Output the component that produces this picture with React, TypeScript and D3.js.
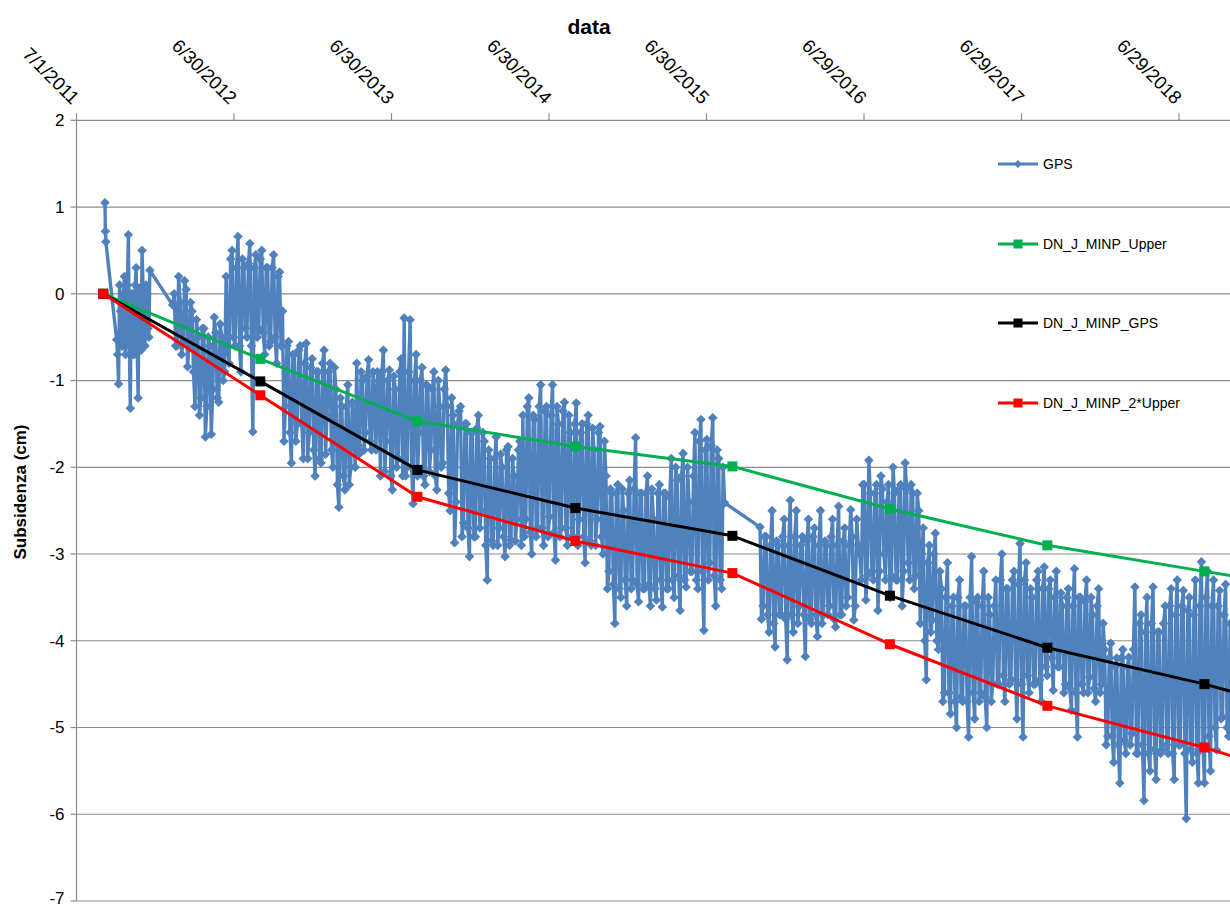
import React from "react";
import * as d3 from "d3";

// ---------------- data ----------------
const xTickDates = [
  "2011-07-01", "2012-06-30", "2013-06-30", "2014-06-30",
  "2015-06-30", "2016-06-29", "2017-06-29", "2018-06-29",
];
const xAxisEndDate = "2019-06-28";
const yTickValues = [2, 1, 0, -1, -2, -3, -4, -5, -6, -7];

const modelDates = [
  "2011-09-01", "2012-08-30", "2013-08-29", "2014-08-30", "2015-08-29",
  "2016-08-28", "2017-08-28", "2018-08-27", "2019-08-28",
];
const upperValues = [0, -0.75, -1.47, -1.76, -1.99, -2.48, -2.9, -3.2, -3.49];
const minpGpsValues = [0, -1.01, -2.03, -2.47, -2.79, -3.48, -4.08, -4.5, -5.0];
const twiceUpperValues = [0, -1.17, -2.34, -2.85, -3.22, -4.04, -4.75, -5.23, -5.8];

// "outer" values trace the spikes, "inner" values (half a step later) the solid band.
const gpsRunA = ["2011-09-05", "2011-09-07"];
const gpsValuesA = [1.05, 0.72, 0.6];

const gpsRunB = ["2011-10-02", "2011-12-18"];
const gpsValuesB = [
  -0.53, -1.04, -0.2, -0.6, 0.2, -0.5, 0.68, -1.32, 0.0, -0.7, 0.3, -1.2, -0.3,
  0.5, -0.6, 0.1, -0.4, 0.27,
];
const gpsInnerB = [
  -0.7, 0.1, -0.6, 0.0, -0.7, 0.1, -0.6, 0.0, -0.7, 0.1, -0.6, 0.05, -0.65,
  0.1, -0.6, 0.0, -0.5,
];

const gpsRunC = ["2012-02-09", "2015-08-11"];
const gpsValuesC = [
  -0.13, -0.6, 0.2, -0.7, 0.15, -0.84, -0.1,
  -0.9, -0.3, -1.4, -0.4, -1.65, -0.5, -1.62, -0.27, -1.2, -0.35, -1.0,
  0.2, -0.8, 0.5, -0.6, 0.66, -0.9, 0.3, -0.5, 0.58, -1.59, 0.45, -0.4, 0.5, -0.7, 0.3, -0.55, 0.45, -0.8, 0.25,
  -0.2, -1.3, -0.55, -1.95, -0.7, -1.5, -0.6,
  -1.9, -0.57, -1.6, -0.75, -2.1, -0.9, -1.95, -0.65, -1.4, -0.8, -2.0,
  -1.1, -2.46, -1.3, -2.26, -1.05, -2.0, -1.5,
  -0.8, -1.84, -1.0, -1.6, -0.76, -1.8, -1.2, -0.9,
  -2.1, -0.65, -1.7, -0.88, -2.26, -1.1, -1.9, -0.75,
  -0.28, -2.0, -0.3, -2.42, -0.7,
  -1.6, -0.85, -2.2, -1.07, -1.8, -0.9, -2.26, -1.3, -1.95,
  -0.88, -2.3, -1.2, -2.87, -1.5,
  -1.3, -2.64, -1.5, -3.03, -1.6, -2.8, -1.4, -2.5,
  -1.7, -3.3, -1.9, -2.9, -1.65, -2.7, -2.0, -3.03, -1.76, -2.84, -2.1, -2.6, -1.7,
  -1.4, -2.6, -1.2, -3.0, -1.45, -2.7, -1.05, -2.9, -1.3, -2.57, -1.05, -3.07, -1.5, -2.7, -1.25, -2.9, -1.6,
  -2.8, -1.26, -2.6, -1.5, -3.1, -1.4, -2.9, -1.8, -2.6, -1.53, -3.0,
  -2.1, -3.2, -2.3, -3.8, -2.2, -3.5, -2.5, -3.6, -2.15, -3.3, -1.66, -3.55, -2.3, -3.4, -2.1, -3.6, -2.6, -3.53, -2.2,
  -3.61, -2.3, -3.4,
  -1.9, -3.5, -2.15, -3.65, -1.84, -3.38, -2.4, -3.2,
  -1.6, -3.4, -1.45, -3.88, -1.68, -3.1, -1.43, -3.6, -1.9, -3.4, -2.41,
];
const gpsInnerC = [
  0.0, -0.6, -0.1, -0.55, 0.05, -0.6, -0.2,
  -1.3, -0.5, -1.2, -0.4, -1.3, -0.6, -1.1, -0.45, -1.25, -0.5, -0.9,
  -0.6, 0.4, -0.5, 0.3, -0.6, 0.4, -0.4, 0.35, -0.6, 0.3, -0.5, 0.4, -0.45, 0.3, -0.6, 0.3, -0.5, 0.2, -0.6,
  -1.7, -0.6, -1.6, -0.7, -1.7, -0.65, -1.5,
  -0.8, -1.9, -0.85, -1.8, -0.9, -1.9, -0.8, -1.85, -0.9, -1.8, -0.85,
  -2.2, -1.2, -2.1, -1.3, -2.2, -1.25, -2.0,
  -1.75, -0.9, -1.8, -0.95, -1.7, -0.9, -1.8, -1.0,
  -0.9, -2.05, -1.0, -2.1, -0.95, -2.0, -0.9, -2.1,
  -2.1, -0.9, -2.0, -1.0, -2.1,
  -1.0, -2.1, -1.05, -2.05, -1.1, -2.1, -1.0, -2.0, -1.1,
  -1.3, -2.5, -1.4, -2.4, -1.35,
  -2.8, -1.5, -2.7, -1.6, -2.8, -1.55, -2.7, -1.6,
  -2.9, -1.8, -2.85, -1.9, -2.9, -1.85, -2.8, -1.8, -2.9, -1.9, -2.85, -1.8, -2.9,
  -2.8, -1.3, -2.75, -1.4, -2.8, -1.3, -2.7, -1.35, -2.8, -1.4, -2.75, -1.3, -2.8, -1.35, -2.7, -1.4, -2.8,
  -1.5, -2.9, -1.6, -2.8, -1.5, -2.85, -1.55, -2.9, -1.6, -2.8, -1.7,
  -3.4, -2.25, -3.35, -2.3, -3.4, -2.25, -3.3, -2.3, -3.4, -2.25, -3.35, -2.3, -3.4, -2.3, -3.35, -2.25, -3.4, -2.3, -3.3,
  -2.3, -3.4, -2.35,
  -3.3, -2.0, -3.25, -2.1, -3.3, -2.0, -3.2, -2.1,
  -3.3, -1.7, -3.2, -1.8, -3.3, -1.75, -3.25, -1.8, -3.3, -2.0,
];

const gpsRunD = ["2015-11-01", "2018-10-29"];
const gpsValuesD = [
  -2.69, -3.6, -2.8, -3.9, -2.5, -4.07, -2.9, -3.7, -2.6, -4.22, -2.38, -3.9, -2.5, -3.6, -2.8,
  -4.18, -2.6, -3.8, -2.7, -3.95, -2.5, -3.7, -2.9, -3.6, -2.6, -3.84, -2.45, -3.7, -2.7, -3.5,
  -2.49, -3.76, -2.6,
  -3.0, -2.2, -3.53, -1.92, -3.2, -2.3, -3.65, -2.1, -3.0, -2.4, -3.5, -2.0, -3.3, -2.25, -3.6, -1.95, -3.1, -2.2, -3.4, -2.3,
  -3.8, -2.7, -4.45, -2.9, -3.76, -2.76, -4.1,
  -3.4, -4.6, -3.1, -4.84, -3.5, -5.0, -3.3, -4.7, -3.6, -5.11, -3.03, -4.9, -3.5, -4.6, -3.2, -5.0, -3.7, -4.5,
  -3.3, -4.5, -3.0, -4.7, -3.4, -4.45, -3.2, -4.9, -2.88, -5.11, -3.1, -4.6, -3.5, -4.5, -3.2, -4.7,
  -3.15, -4.4, -3.3, -4.57, -3.2, -4.3,
  -3.6, -4.5, -3.4, -4.8, -3.17, -5.11, -3.5, -4.6, -3.3, -4.42, -3.7, -4.7, -3.4, -4.5,
  -4.1, -5.1, -4.03, -5.4, -4.2, -5.64, -4.1, -5.3, -4.19, -5.07,
  -3.38, -5.3, -3.7, -5.84, -3.5, -5.5, -3.38, -5.6, -3.9, -5.26, -3.6,
  -5.3, -3.4, -5.6, -3.3, -5.2, -3.42, -6.05, -3.5, -5.4, -3.3, -5.64,
  -3.09, -5.64, -3.2, -5.5,
  -3.3, -5.26, -3.42, -4.88, -3.35, -5.1, -3.8,
];
const gpsInnerD = [
  -3.75, -2.8, -3.7, -2.9, -3.8, -2.85, -3.7, -2.8, -3.75, -2.9, -3.7, -2.8, -3.8, -2.9, -3.7,
  -2.85, -3.75, -2.8, -3.7, -2.9, -3.8, -2.85, -3.7, -2.8, -3.75, -2.9, -3.7, -2.85, -3.6, -2.9,
  -2.8, -3.6, -2.9,
  -3.3, -2.2, -3.25, -2.3, -3.3, -2.2, -3.2, -2.25, -3.3, -2.2, -3.25, -2.3, -3.3, -2.2, -3.2, -2.25, -3.3, -2.3, -3.25, -2.5,
  -3.0, -4.0, -3.1, -3.9, -3.0, -4.0, -3.2,
  -4.7, -3.5, -4.6, -3.6, -4.7, -3.5, -4.65, -3.6, -4.7, -3.5, -4.6, -3.55, -4.7, -3.6, -4.65, -3.5, -4.7, -3.6,
  -4.5, -3.3, -4.4, -3.4, -4.5, -3.3, -4.45, -3.35, -4.5, -3.3, -4.4, -3.4, -4.5, -3.3, -4.45, -3.4,
  -4.3, -3.4, -4.2, -3.5, -4.3, -3.45,
  -4.6, -3.5, -4.55, -3.6, -4.6, -3.5, -4.5, -3.55, -4.6, -3.5, -4.55, -3.6, -4.6, -3.8,
  -5.2, -4.2, -5.1, -4.3, -5.2, -4.2, -5.15, -4.3, -5.2, -4.1,
  -5.3, -3.8, -5.2, -3.9, -5.3, -3.8, -5.25, -3.9, -5.3, -3.8, -5.2,
  -3.6, -5.3, -3.7, -5.2, -3.6, -5.3, -3.65, -5.25, -3.7, -5.3, -3.6,
  -5.2, -3.5, -5.1, -3.6,
  -5.0, -3.6, -4.9, -3.7, -5.0, -3.8,
];

const legendNames = ["GPS", "DN_J_MINP_Upper", "DN_J_MINP_GPS", "DN_J_MINP_2*Upper"];

// ---------------- chart ----------------
const W = 1230;
const H = 907;
const FONT = "'Liberation Sans', Arial, sans-serif";
const GPS_COLOR = "#4F81BD";
const GRID = "#8c8c8c";

type Pt = [Date, number];

export default function App() {
  const parse = d3.utcParse("%Y-%m-%d");
  const fmt = d3.utcFormat("%-m/%-d/%Y");

  const start = parse(xTickDates[0]) as Date;
  const end = parse(xAxisEndDate) as Date;
  const plotLeft = 76.5;
  const pxPerDay = 157.5 / 365;
  const days = d3.utcDay.count(start, end);
  const x = d3.scaleUtc().domain([start, end]).range([plotLeft, plotLeft + days * pxPerDay]);
  const y = d3.scaleLinear().domain([-7, 2]).range([901, 120.3]);

  // samples of a run, evenly spread between its two dates; offset 0.5 puts them between
  const run = (r: string[], vals: number[], n: number, offset: number): Pt[] => {
    const a = (parse(r[0]) as Date).getTime();
    const b = (parse(r[1]) as Date).getTime();
    const step = (b - a) / Math.max(1, n - 1);
    return vals.map((v, i) => [new Date(a + step * (i + offset)), v] as Pt);
  };
  const gps: Pt[] = [
    ...run(gpsRunA, gpsValuesA, gpsValuesA.length, 0),
    ...run(gpsRunB, gpsValuesB, gpsValuesB.length, 0),
    ...run(gpsRunB, gpsInnerB, gpsValuesB.length, 0.5),
    ...run(gpsRunC, gpsValuesC, gpsValuesC.length, 0),
    ...run(gpsRunC, gpsInnerC, gpsValuesC.length, 0.5),
    ...run(gpsRunD, gpsValuesD, gpsValuesD.length, 0),
    ...run(gpsRunD, gpsInnerD, gpsValuesD.length, 0.5),
  ].sort((p, q) => p[0].getTime() - q[0].getTime());

  const mDates = modelDates.map((s) => parse(s) as Date);
  const model = (vals: number[]): Pt[] => vals.map((v, i) => [mDates[i], v] as Pt);

  const series = [
    { name: legendNames[1], color: "#00B050", pts: model(upperValues) },
    { name: legendNames[2], color: "#000000", pts: model(minpGpsValues) },
    { name: legendNames[3], color: "#FF0000", pts: model(twiceUpperValues) },
  ];

  const line = d3
    .line<Pt>()
    .x((d) => x(d[0]))
    .y((d) => y(d[1]));

  const diamond = (cx: number, cy: number, r: number) =>
    `M${cx},${cy - r}L${cx + r},${cy}L${cx},${cy + r}L${cx - r},${cy}Z`;

  const xTicks = xTickDates.map((s) => parse(s) as Date);
  const yTop = y(2);
  const xRight = x.range()[1];

  const legendYs = [164, 244, 323, 403];
  const legendX0 = 998;
  const legendX1 = 1038;

  return (
    <svg
      width={W}
      height={H}
      viewBox={`0 0 ${W} ${H}`}
      style={{ position: "absolute", left: 0, top: 0, background: "#fff" }}
      fontFamily={FONT}
    >
      <rect x={0} y={0} width={W} height={H} fill="#fff" />

      {/* horizontal gridlines */}
      {yTickValues.map((v) => (
        <line key={"g" + v} x1={plotLeft} x2={xRight} y1={y(v)} y2={y(v)} stroke={GRID} strokeWidth={1.2} />
      ))}

      {/* y axis */}
      <line x1={plotLeft} x2={plotLeft} y1={yTop} y2={y(-7)} stroke={GRID} strokeWidth={1.2} />
      {yTickValues.map((v) => (
        <g key={"yt" + v}>
          <line x1={plotLeft - 6} x2={plotLeft} y1={y(v)} y2={y(v)} stroke={GRID} strokeWidth={1.2} />
          <text x={plotLeft - 12} y={y(v)} dy={v === -7 ? "0.2em" : "0.35em"} textAnchor="end" fontSize={17} fill="#000">
            {v}
          </text>
        </g>
      ))}

      {/* x axis (top) */}
      {xTicks.map((t, i) => (
        <g key={"xt" + i}>
          <line x1={x(t)} x2={x(t)} y1={yTop - 7} y2={yTop} stroke={GRID} strokeWidth={1.2} />
          <text
            transform={`translate(${x(t) - 5},${yTop - 15}) rotate(45)`}
            textAnchor="end"
            fontSize={18.5}
            fill="#000"
          >
            {fmt(t)}
          </text>
        </g>
      ))}

      {/* titles */}
      <text x={589} y={34} textAnchor="middle" fontSize={21} fontWeight="bold" fill="#000">
        data
      </text>
      <text
        transform={`translate(26,${492}) rotate(-90)`}
        textAnchor="middle"
        fontSize={17}
        fontWeight="bold"
        fill="#000"
      >
        Subsidenza (cm)
      </text>

      {/* GPS series */}
      <path
        d={line(gps) || ""}
        fill="none"
        stroke={GPS_COLOR}
        strokeWidth={3.4}
        strokeLinejoin="round"
      />
      <g fill={GPS_COLOR}>
        {gps.map((d, i) => (
          <path key={"gp" + i} d={diamond(x(d[0]), y(d[1]), 4.8)} />
        ))}
      </g>

      {/* model series */}
      {series.map((s) => (
        <g key={s.name}>
          <path d={line(s.pts) || ""} fill="none" stroke={s.color} strokeWidth={3} strokeLinejoin="round" />
          {s.pts.map((d, i) => (
            <rect key={i} x={x(d[0]) - 5} y={y(d[1]) - 5} width={10} height={10} fill={s.color} />
          ))}
        </g>
      ))}

      {/* legend */}
      <g>
        <line x1={legendX0} x2={legendX1} y1={legendYs[0]} y2={legendYs[0]} stroke={GPS_COLOR} strokeWidth={3} />
        <path d={diamond((legendX0 + legendX1) / 2, legendYs[0], 4)} fill={GPS_COLOR} />
        <text x={legendX1 + 5} y={legendYs[0]} dy="0.35em" fontSize={14} fill="#000">
          {legendNames[0]}
        </text>
        {series.map((s, i) => (
          <g key={"lg" + i}>
            <line x1={legendX0} x2={legendX1} y1={legendYs[i + 1]} y2={legendYs[i + 1]} stroke={s.color} strokeWidth={3} />
            <rect x={(legendX0 + legendX1) / 2 - 4.5} y={legendYs[i + 1] - 4.5} width={9} height={9} fill={s.color} />
            <text x={legendX1 + 5} y={legendYs[i + 1]} dy="0.35em" fontSize={14} fill="#000">
              {s.name}
            </text>
          </g>
        ))}
      </g>
    </svg>
  );
}
